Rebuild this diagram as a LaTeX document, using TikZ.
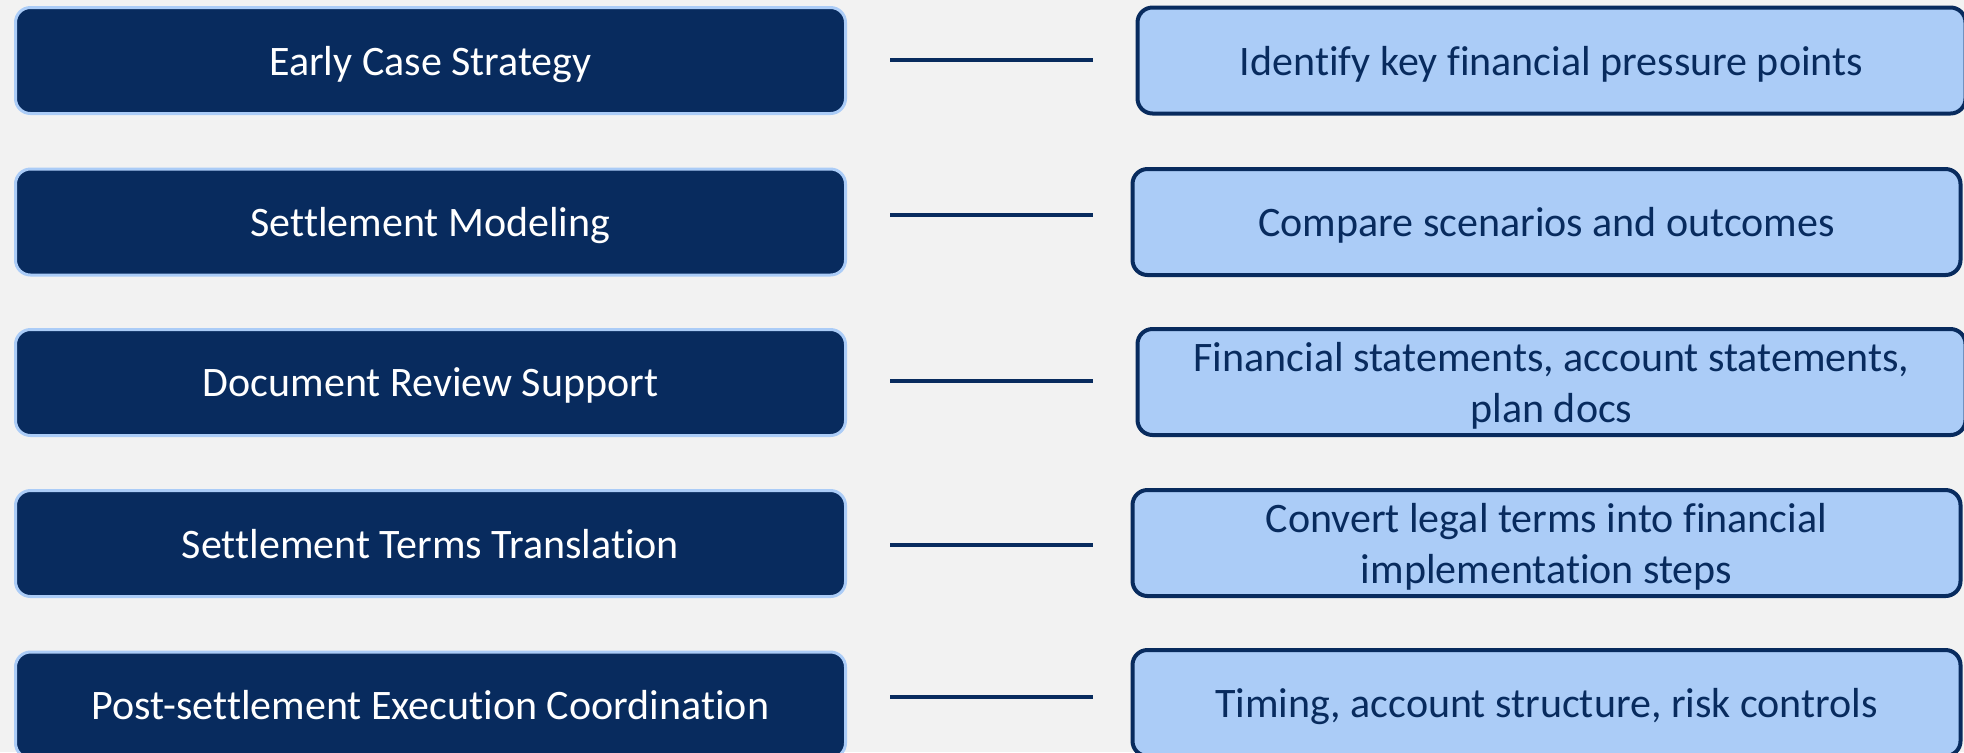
\documentclass[tikz,border=0pt]{standalone}
\usepackage{fontspec}
\setmainfont{Carlito}[Ligatures={NoCommon}]
\definecolor{nv}{rgb}{0.03, 0.17, 0.37}
\definecolor{lb}{rgb}{0.67, 0.80, 0.97}
\definecolor{bg}{rgb}{0.95, 0.95, 0.95}

\begin{document}
\begin{tikzpicture}[x=0.5pt,y=-0.5pt,%
    stage/.style={draw=lb,fill=nv,line width=1.5pt,rounded corners=7.5pt,%
      text=white,inner sep=0pt,minimum width=415pt,minimum height=53pt,%
      text depth=0pt,font=\fontsize{21}{25}\selectfont},%
    task/.style={draw=nv,fill=lb,line width=2pt,rounded corners=7.5pt,%
      text=nv,align=center,inner sep=0pt,minimum width=414pt,minimum height=53pt,%
      text depth=0pt,font=\fontsize{21}{25.5}\selectfont},%
    link/.style={draw=nv,line width=2pt}]%
  % page
  \path[use as bounding box,fill=bg] (0,0) rectangle (1964,752);%

  % left column
  \node[stage] (l1) at (430.5,60.5) {Early Case Strategy};%
  \node[stage] (l2) at (430.5,222)  {Settlement Modeling};%
  \node[stage] (l3) at (430.5,382.5){Document Review Support};%
  \node[stage] (l4) at (430.5,543.5){Settlement Terms Translation};%
  \node[stage] (l5) at (430.5,705)  {Post-settlement Execution Coordination};%

  % right column
  \node[task] (r1) at (1551.5,60.5) {Identify key financial pressure points};%
  \node[task] (r2) at (1546.5,222)  {Compare scenarios and outcomes};%
  \node[task] (r3) at (1551.5,382)  {Financial statements, account statements,\\plan docs};%
  \node[task] (r4) at (1546.5,543)  {Convert legal terms into financial\\implementation steps};%
  \node[task] (r5) at (1546.5,703)  {Timing, account structure, risk controls};%

  % dashes between columns
  \foreach \i/\y in {1/60,2/215,3/381,4/545,5/697}{%
    \coordinate (s\i) at (890,\y);%
    \coordinate (e\i) at (1093,\y);%
    \draw[link] (s\i) -- (e\i);%
  }
\end{tikzpicture}
\end{document}
